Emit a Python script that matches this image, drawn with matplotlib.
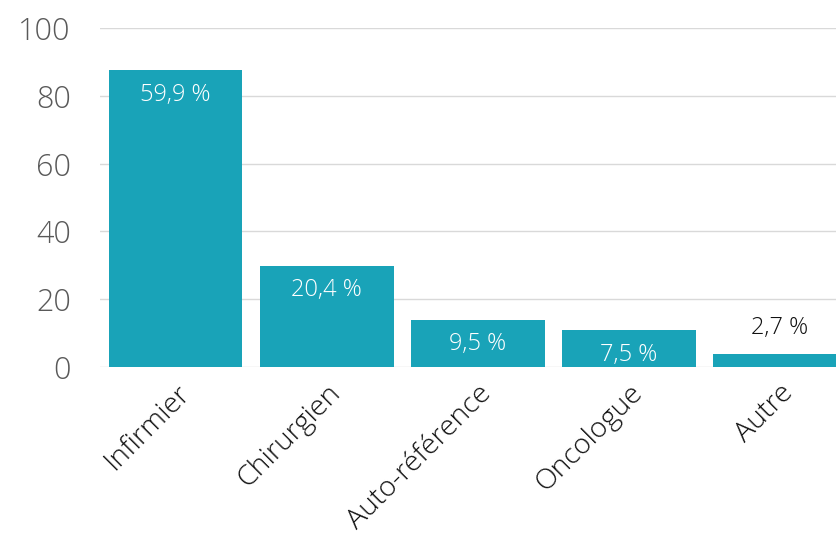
import matplotlib
matplotlib.use("Agg")
import matplotlib.pyplot as plt

categories = ["Infirmier", "Chirurgien", "Auto-référence", "Oncologue", "Autre"]
heights = [87.5, 29.8, 13.9, 10.9, 3.8]
labels = ["59,9 %", "20,4 %", "9,5 %", "7,5 %", "2,7 %"]
y_ticks = [0, 20, 40, 60, 80, 100]

plt.rcParams['font.family'] = ['Open Sans', 'DejaVu Sans']
plt.rcParams['font.weight'] = 'light'

fig = plt.figure(figsize=(8.37, 5.54), dpi=100)
ax = fig.add_axes([100 / 837, 1 - 367 / 554, 737 / 837, (367 - 28) / 554])

bar_color = '#19A3B8'
x = range(len(categories))
ax.bar(x, heights, width=0.887, color=bar_color, zorder=3)

ax.set_ylim(0, 100)
ax.set_xlim(-0.5, 4.38)
ax.set_yticks(y_ticks)
ax.set_yticklabels([str(v) for v in y_ticks])
ax.grid(axis='y', color='#d9d9d9', linewidth=1, zorder=0)
ax.set_axisbelow(True)
for s in ax.spines.values():
    s.set_visible(False)
ax.tick_params(axis='y', length=0, pad=21, labelsize=22, labelcolor='#595959')
ax.tick_params(axis='x', length=0, pad=9)

ax.set_xticks(list(x))
ax.set_xticklabels(categories, rotation=45, ha='right', rotation_mode='anchor',
                   fontsize=20.5, color='#111111')

for i, (h, lab) in enumerate(zip(heights, labels)):
    if h > 8:
        ax.annotate(lab, (i, h), xytext=(0, -9), textcoords='offset points',
                    ha='center', va='top', fontsize=17, color='white', zorder=4)
    else:
        ax.annotate(lab, (i, h), xytext=(0, 10), textcoords='offset points',
                    ha='center', va='bottom', fontsize=17, color='#111111', zorder=4)

fig.savefig("out.png", dpi=100)
